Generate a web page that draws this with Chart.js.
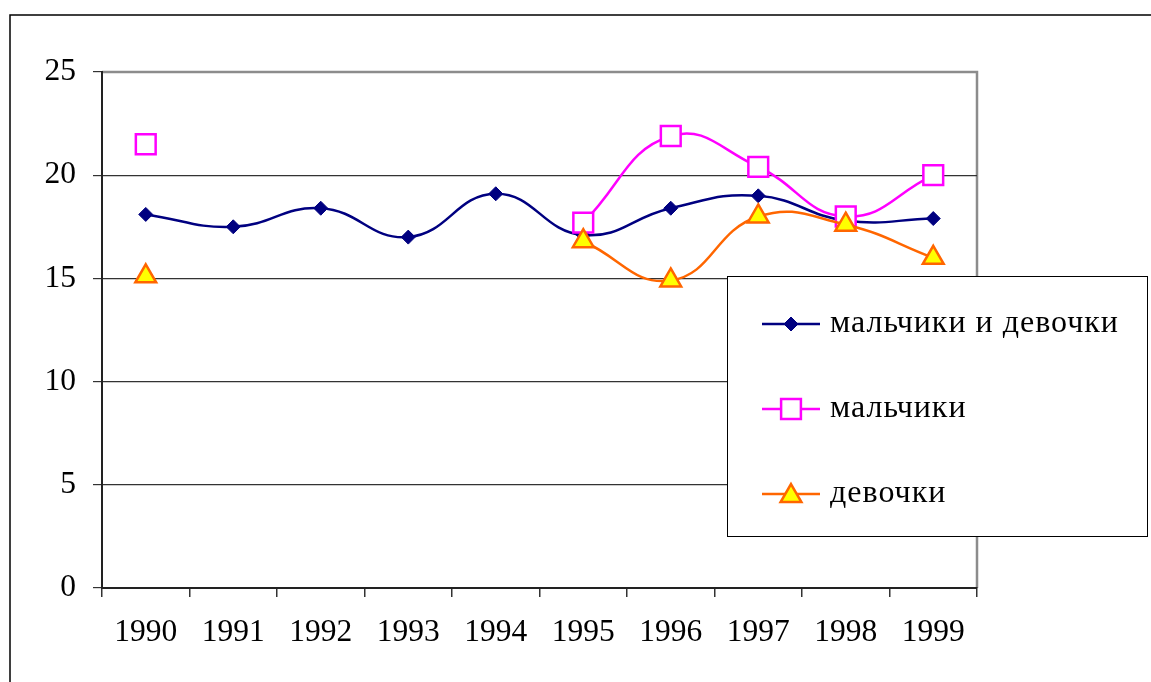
<!DOCTYPE html>
<html>
<head>
<meta charset="utf-8">
<script src="https://cdn.jsdelivr.net/npm/chart.js@4/dist/chart.umd.min.js"></script>
<style>
  html, body { margin: 0; padding: 0; background: #fff; }
  canvas { display: block; }
</style>
</head>
<body>
<canvas id="graph" width="1151" height="682"></canvas>
<script>
var years = ['1990', '1991', '1992', '1993', '1994', '1995', '1996', '1997', '1998', '1999']
var seriesNames = ['мальчики и девочки', 'мальчики', 'девочки']
var vsego = [18.1, 17.5, 18.4, 17.0, 19.1, 17.1, 18.4, 19.0, 17.8, 17.9]
var malchiki = [21.5, null, null, null, null, 17.7, 21.9, 20.4, 18.0, 20.0]
var devochki = [15.1, null, null, null, null, 16.8, 14.9, 18.0, 17.6, 16.0]
var yTicks = [0, 5, 10, 15, 20, 25]

var serif = "'Liberation Serif', 'Times New Roman', serif"

// styles des séries (ligne + marqueur)
var styles = [
	{ line: '#000080', fill: '#000080', border: '#000080', pointStyle: 'rectRot', radius: 7, bw: 1 },
	{ line: '#FF00FF', fill: '#FFFFFF', border: '#FF00FF', pointStyle: 'rect', radius: 14, bw: 2.5 },
	{ line: '#FF6600', fill: '#FFFF00', border: '#FF6600', pointStyle: 'triangle', radius: 12, bw: 2.5 }
]

function makeSet(i, data) {
	var s = styles[i]
	return {
		label: seriesNames[i],
		data: data,
		borderColor: s.line,
		borderWidth: 2.5,
		backgroundColor: s.fill,
		pointStyle: s.pointStyle,
		pointRadius: s.radius,
		pointBackgroundColor: s.fill,
		pointBorderColor: s.border,
		pointBorderWidth: s.bw,
		tension: 0.45,
		spanGaps: false,
		order: 3 - i
	}
}

// cadre extérieur + bord gris de la zone de tracé
var framePlugin = {
	id: 'frame',
	beforeDraw: function (chart) {
		var ctx = chart.ctx
		var a = chart.chartArea
		ctx.save()
		ctx.strokeStyle = '#000'
		ctx.lineWidth = 1.5
		ctx.strokeRect(10, 15, 1300, 800)
		ctx.strokeStyle = '#8c8c8c'
		ctx.lineWidth = 2.5
		ctx.beginPath()
		ctx.moveTo(a.left, a.top)
		ctx.lineTo(a.right, a.top)
		ctx.lineTo(a.right, a.bottom)
		ctx.stroke()
		ctx.restore()
	}
}

// légende en boîte, posée sur le graphique
var legendPlugin = {
	id: 'boxLegend',
	afterDraw: function (chart) {
		var ctx = chart.ctx
		var box = { x: 727, y: 276, w: 420, h: 260 }
		ctx.save()
		ctx.fillStyle = '#fff'
		ctx.fillRect(box.x, box.y, box.w, box.h)
		ctx.strokeStyle = '#000'
		ctx.lineWidth = 1
		ctx.strokeRect(box.x + 0.5, box.y + 0.5, box.w, box.h)
		var rowsY = [324, 409, 494]
		for (var i = 0; i < seriesNames.length; i++) {
			var s = styles[i]
			var y = rowsY[i]
			ctx.strokeStyle = s.line
			ctx.lineWidth = 2.5
			ctx.beginPath()
			ctx.moveTo(762, y)
			ctx.lineTo(820, y)
			ctx.stroke()
			ctx.fillStyle = s.fill
			ctx.strokeStyle = s.border
			ctx.lineWidth = s.bw
			Chart.helpers.drawPoint(ctx, { pointStyle: s.pointStyle, radius: s.radius, rotation: 0, borderWidth: s.bw }, 791, s.pointStyle === 'triangle' ? y + 2 : y)
			ctx.fillStyle = '#000'
			ctx.font = '32px ' + serif
			ctx.letterSpacing = '1px'
			ctx.textBaseline = 'middle'
			ctx.textAlign = 'left'
			ctx.fillText(seriesNames[i], 830, y)
		}
		ctx.restore()
	}
}

var ctx = document.getElementById('graph').getContext('2d')
var myChart = new Chart(ctx, {
	type: 'line',
	data: {
		labels: years,
		datasets: [makeSet(0, vsego), makeSet(1, malchiki), makeSet(2, devochki)]
	},
	options: {
		responsive: false,
		animation: false,
		layout: { padding: { left: 0, top: 72, right: 174, bottom: 0 } },
		plugins: {
			legend: { display: false },
			tooltip: { enabled: false }
		},
		scales: {
			x: {
				offset: true,
				afterFit: function (scale) { scale.height = 94 },
				grid: {
					offset: true,
					drawOnChartArea: false,
					drawTicks: true,
					tickLength: 9,
					color: '#333',
					lineWidth: 1.5
				},
				border: { color: '#222', width: 2 },
				ticks: {
					color: '#000',
					font: { family: serif, size: 31.5 },
					padding: 17,
					maxRotation: 0,
					autoSkip: false
				}
			},
			y: {
				min: 0,
				max: 25,
				afterFit: function (scale) { scale.width = 102 },
				afterBuildTicks: function (scale) {
					scale.ticks = yTicks.map(function (v) { return { value: v } })
				},
				grid: {
					color: function (c) { return c.tick && c.tick.value === 25 ? 'rgba(0,0,0,0)' : '#333' },
					lineWidth: 1.2,
					drawTicks: true,
					tickLength: 9,
					tickColor: '#333'
				},
				border: { color: '#222', width: 2 },
				ticks: {
					color: '#000',
					font: { family: serif, size: 31.5 },
					padding: 17
				}
			}
		}
	},
	plugins: [framePlugin, legendPlugin]
})
</script>
</body>
</html>
